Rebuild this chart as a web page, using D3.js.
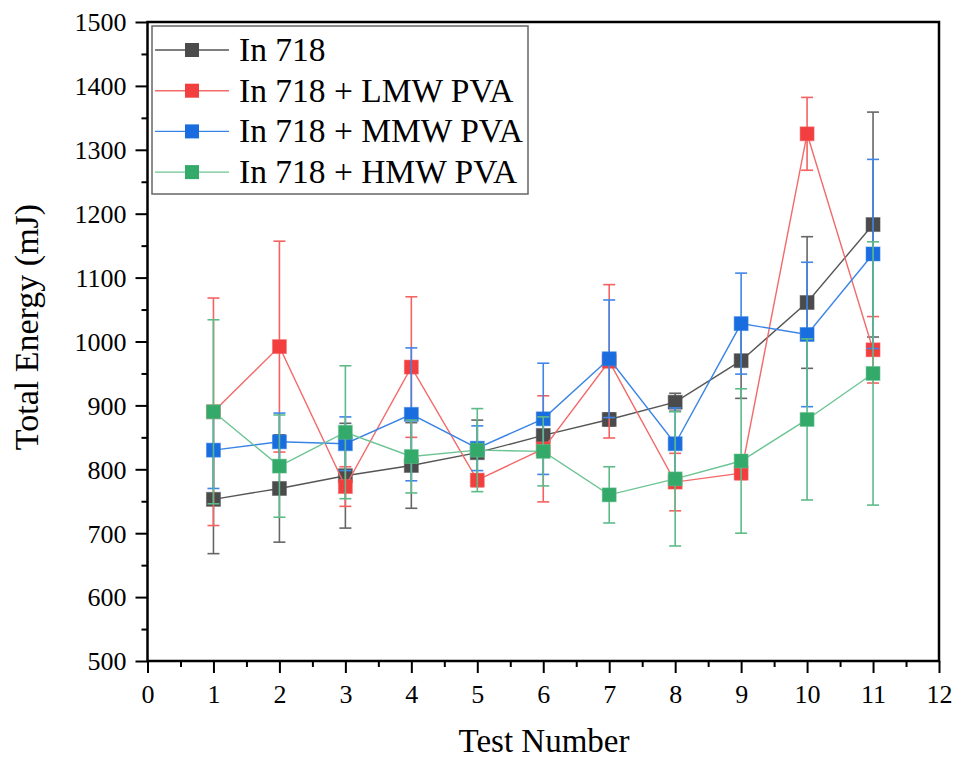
<!DOCTYPE html>
<html>
<head>
<meta charset="utf-8">
<script src="https://cdn.jsdelivr.net/npm/d3@7"></script>
<style>
  body { margin: 0; background: #fff; }
  svg { display: block; font-family: "Liberation Serif", "Times New Roman", serif; }
</style>
</head>
<body>
<div id="chart"></div>
<script>
/**
 * DATA
 * */
const testNumbers = [1, 2, 3, 4, 5, 6, 7, 8, 9, 10, 11];
const seriesNames = ["In 718", "In 718 + LMW PVA", "In 718 + MMW PVA", "In 718 + HMW PVA"];

const in718    = [753, 770, 790, 806, 826, 853, 878, 905, 970, 1061, 1183];
const in718Err = [85, 84, 82, 67, 51, 28, 10, 14, 59, 103, 176];

const lmw    = [890, 992, 773, 960, 783, 832, 969, 780, 794, 1325, 987];
const lmwErr = [178, 165, 31, 110, 10, 83, 120, 45, 10, 57, 52];

const mmw    = [830, 843, 840, 886, 833, 879, 973, 840, 1028, 1011, 1137];
const mmwErr = [60, 45, 42, 104, 35, 87, 92, 56, 79, 113, 148];

const hmw    = [890, 805, 858, 820, 830, 828, 760, 785, 813, 878, 950];
const hmwErr = [144, 80, 104, 57, 65, 54, 44, 105, 113, 126, 206];

const xTicks = [0, 1, 2, 3, 4, 5, 6, 7, 8, 9, 10, 11, 12];
const yTicks = [500, 600, 700, 800, 900, 1000, 1100, 1200, 1300, 1400, 1500];

/**
 * CONSTANTS
 * */
const width = 954, height = 758;
const margin = { top: 22, right: 15, bottom: 97, left: 147.5 };

const styles = [
  { fill: "#4b4b4b", line: "#555555", err: "#666666" },
  { fill: "#f23e3e", line: "#f36a6a", err: "#f46262" },
  { fill: "#1a6ddf", line: "#3a84e6", err: "#3f86e8" },
  { fill: "#33a96a", line: "#6cc494", err: "#5dbb88" }
];

const series = [
  { values: in718, errs: in718Err },
  { values: lmw, errs: lmwErr },
  { values: mmw, errs: mmwErr },
  { values: hmw, errs: hmwErr }
];

const svg = d3.select("#chart")
  .append("svg")
  .attr("width", width)
  .attr("height", height);

const x = d3.scaleLinear().domain([0, 12]).range([margin.left, width - margin.right]);
const y = d3.scaleLinear().domain([500, 1500]).range([height - margin.bottom, margin.top]);

const x0 = x.range()[0], x1 = x.range()[1];
const y0 = y.range()[0], y1 = y.range()[1];

// minor ticks
svg.append("g")
  .attr("transform", `translate(0,${y0})`)
  .call(d3.axisBottom(x).tickValues(d3.range(0.5, 12, 1)).tickSize(6).tickFormat(""))
  .call(g => g.select(".domain").remove())
  .selectAll("line").attr("stroke", "#000").attr("stroke-width", 2);

svg.append("g")
  .attr("transform", `translate(${x0},0)`)
  .call(d3.axisLeft(y).tickValues(d3.range(550, 1500, 100)).tickSize(6).tickFormat(""))
  .call(g => g.select(".domain").remove())
  .selectAll("line").attr("stroke", "#000").attr("stroke-width", 2);

// major axes
const xAxis = svg.append("g")
  .attr("transform", `translate(0,${y0})`)
  .call(d3.axisBottom(x).tickValues(xTicks).tickSize(12).tickSizeOuter(0).tickFormat(d3.format("d")));

xAxis.selectAll("text")
  .attr("y", 42).attr("dy", 0)
  .attr("font-size", 26).attr("fill", "#000")
  .attr("font-family", "Liberation Serif");

const yAxis = svg.append("g")
  .attr("transform", `translate(${x0},0)`)
  .call(d3.axisLeft(y).tickValues(yTicks).tickSize(12).tickSizeOuter(0).tickPadding(9).tickFormat(d3.format("d")));

yAxis.selectAll("text")
  .attr("dy", "0.34em")
  .attr("font-size", 26).attr("fill", "#000")
  .attr("font-family", "Liberation Serif");

[xAxis, yAxis].forEach(g => {
  g.selectAll("line").attr("stroke", "#000").attr("stroke-width", 2);
  g.select(".domain").remove();
});

// frame
svg.append("rect")
  .attr("x", x0).attr("y", y1)
  .attr("width", x1 - x0).attr("height", y0 - y1)
  .attr("fill", "none").attr("stroke", "#000").attr("stroke-width", 2.5);

// series
const line = d3.line().x((d, i) => x(testNumbers[i])).y(d => y(d));
const cap = 6, sq = 14;

series.forEach((s, k) => {
  const st = styles[k];
  const g = svg.append("g");

  // error bars
  const eb = g.selectAll(".err")
    .data(s.values.map((v, i) => ({ t: testNumbers[i], v: v, e: s.errs[i] })))
    .join("g")
    .attr("stroke", st.err)
    .attr("stroke-width", 1.6);

  eb.append("line")
    .attr("x1", d => x(d.t)).attr("x2", d => x(d.t))
    .attr("y1", d => y(d.v - d.e)).attr("y2", d => y(d.v + d.e));
  eb.append("line")
    .attr("x1", d => x(d.t) - cap).attr("x2", d => x(d.t) + cap)
    .attr("y1", d => y(d.v + d.e)).attr("y2", d => y(d.v + d.e));
  eb.append("line")
    .attr("x1", d => x(d.t) - cap).attr("x2", d => x(d.t) + cap)
    .attr("y1", d => y(d.v - d.e)).attr("y2", d => y(d.v - d.e));

  g.append("path")
    .attr("d", line(s.values))
    .attr("fill", "none")
    .attr("stroke", st.line)
    .attr("stroke-width", 1.4);

  g.selectAll("rect")
    .data(s.values)
    .join("rect")
    .attr("x", (d, i) => x(testNumbers[i]) - sq / 2)
    .attr("y", d => y(d) - sq / 2)
    .attr("width", sq).attr("height", sq)
    .attr("fill", st.fill)
    .attr("stroke", st.line)
    .attr("stroke-opacity", 0.5)
    .attr("stroke-width", 1);
});

// axis titles
svg.append("text")
  .attr("x", 544).attr("y", 752)
  .attr("text-anchor", "middle")
  .attr("font-size", 33)
  .text("Test Number");

svg.append("text")
  .attr("transform", "translate(38,327) rotate(-90)")
  .attr("text-anchor", "middle")
  .attr("font-size", 34)
  .text("Total Energy (mJ)");

// legend
const legend = svg.append("g");
legend.append("rect")
  .attr("x", 152).attr("y", 26)
  .attr("width", 376).attr("height", 168)
  .attr("fill", "#fff")
  .attr("stroke", "#666").attr("stroke-width", 1.5);

seriesNames.forEach((name, k) => {
  const st = styles[k];
  const cy = 50 + k * 40.7;
  legend.append("line")
    .attr("x1", 155).attr("x2", 229)
    .attr("y1", cy).attr("y2", cy)
    .attr("stroke", st.line).attr("stroke-width", 1.4);
  legend.append("rect")
    .attr("x", 192 - sq / 2).attr("y", cy - sq / 2)
    .attr("width", sq).attr("height", sq)
    .attr("fill", st.fill);
  legend.append("text")
    .attr("x", 239).attr("y", cy + 11)
    .attr("font-size", 33.5)
    .text(name);
});
</script>
</body>
</html>
